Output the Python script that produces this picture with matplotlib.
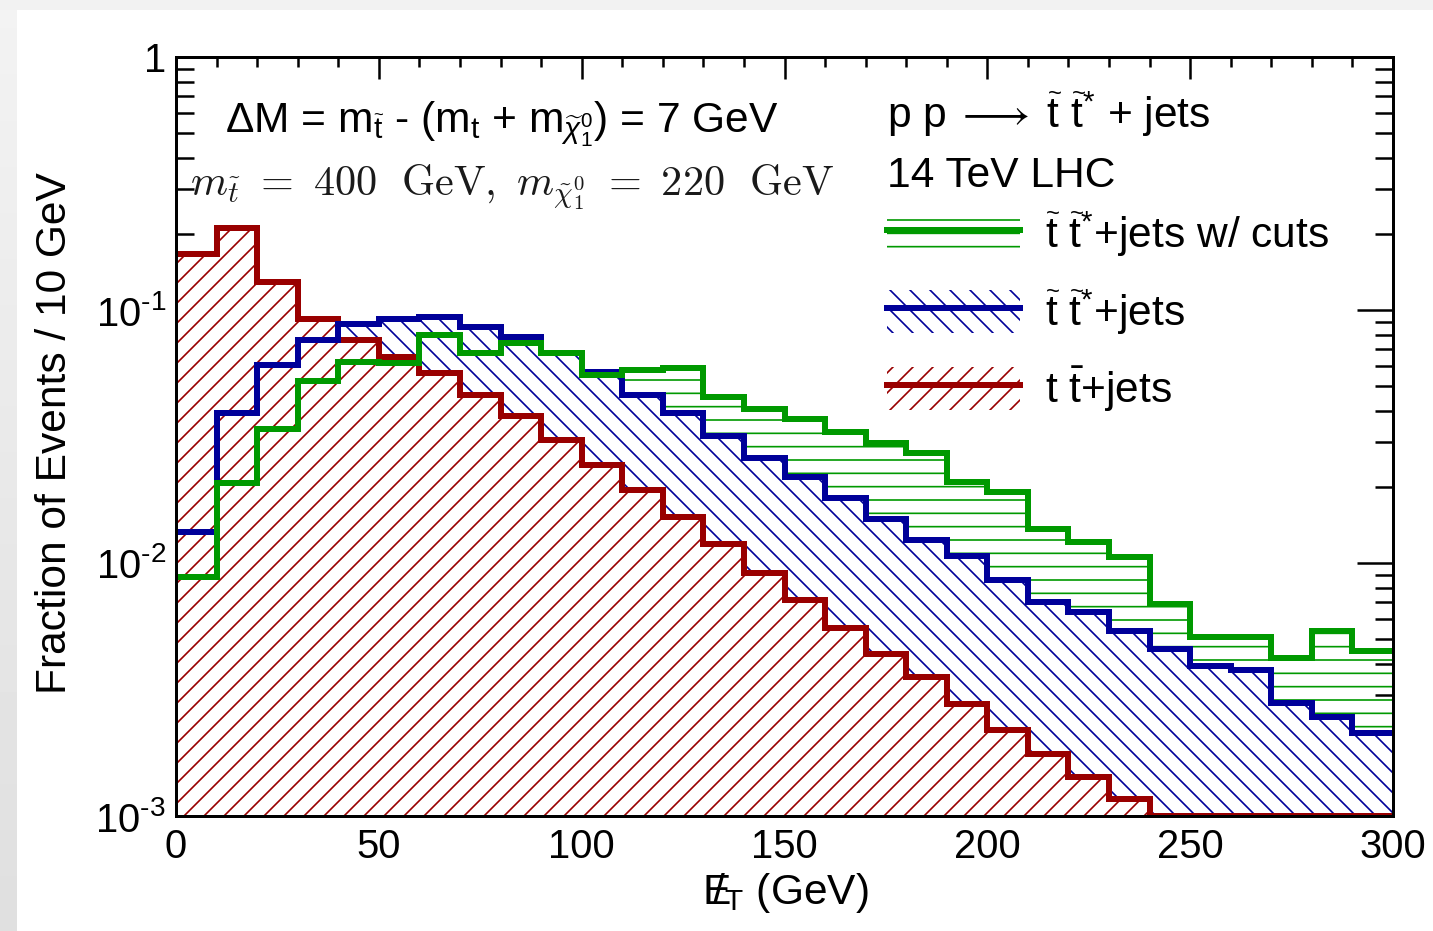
import numpy as np
import matplotlib
matplotlib.use("Agg")
import matplotlib.pyplot as plt
import matplotlib.hatch as mhatch
from matplotlib.patches import Patch, Rectangle
from matplotlib.lines import Line2D
from matplotlib.ticker import MultipleLocator, LogLocator, FuncFormatter, NullFormatter

# ---------------- data ----------------
bin_edges = np.arange(0, 310, 10)
ttbar_jets = [0.166, 0.211, 0.129, 0.092, 0.076, 0.065, 0.0563, 0.046, 0.038, 0.0306,
              0.0244, 0.0194, 0.0152, 0.0119, 0.0091, 0.00714, 0.00553, 0.00437, 0.00355, 0.00277,
              0.00219, 0.00176, 0.00143, 0.00117, 0.001, 0.001, 0.001, 0.001, 0.001, 0.001]
stop_jets = [0.0133, 0.039, 0.0607, 0.076, 0.088, 0.092, 0.094, 0.0857, 0.078, 0.0676,
             0.0569, 0.046, 0.039, 0.0318, 0.026, 0.0219, 0.0181, 0.0149, 0.0123, 0.01066,
             0.00857, 0.00701, 0.0064, 0.0054, 0.00457, 0.00392, 0.00378, 0.0028, 0.00246, 0.00213]
stop_jets_cuts = [0.0088, 0.0207, 0.0339, 0.0524, 0.0622, 0.0617, 0.0796, 0.0676, 0.074, 0.0676,
                  0.0553, 0.058, 0.059, 0.0453, 0.0406, 0.037, 0.033, 0.0298, 0.0272, 0.0209,
                  0.0191, 0.0136, 0.0121, 0.01056, 0.00689, 0.0051, 0.0051, 0.0042, 0.0054, 0.0045]
x_ticks = [0, 50, 100, 150, 200, 250, 300]
legend_labels = [r'$\widetilde{\mathrm{t}}\ \widetilde{\mathrm{t}}^{*}$+jets w/ cuts',
                 r'$\widetilde{\mathrm{t}}\ \widetilde{\mathrm{t}}^{*}$+jets',
                 r't $\bar{\mathrm{t}}$+jets']

RED, BLUE, GREEN = '#990000', '#000099', '#009900'

# denser horizontal hatch (9 lines per inch for '-')
_orig_hh_init = mhatch.HorizontalHatch.__init__
def _hh_init(self, hatch, density):
    _orig_hh_init(self, hatch, density)
    self.num_lines = int(self.num_lines * 1.5)
    self.num_vertices = self.num_lines * 2
mhatch.HorizontalHatch.__init__ = _hh_init

plt.rcParams['font.family'] = ['Liberation Sans', 'DejaVu Sans']
plt.rcParams['mathtext.fontset'] = 'custom'
plt.rcParams['mathtext.rm'] = 'Liberation Sans'
plt.rcParams['mathtext.it'] = 'Liberation Sans:italic'
plt.rcParams['mathtext.bf'] = 'Liberation Sans:bold'
plt.rcParams['mathtext.sf'] = 'Liberation Sans'
plt.rcParams['hatch.linewidth'] = 1.0

W, H, DPI = 1433, 931, 120
fig = plt.figure(figsize=(W / DPI, H / DPI), dpi=DPI)
fig.patch.set_facecolor('#f2f2f2')

def fx(px):
    return px / W

def fy(py):
    return 1 - py / H

# white page + left gradient strip
fig.add_artist(Rectangle((fx(17), 0), 1, fy(10), transform=fig.transFigure,
                         facecolor='white', edgecolor='none', zorder=0))
gax = fig.add_axes([0, 0, fx(17), fy(10)])
grad = np.linspace(0.95, 0.875, 100).reshape(-1, 1)
gax.imshow(grad, cmap='gray', vmin=0, vmax=1, aspect='auto', extent=[0, 1, 0, 1])
gax.set_axis_off()

ax = fig.add_axes([fx(176), fy(816), fx(1393) - fx(176), fy(57) - fy(816)])
ax.set_facecolor('white')

# hatched fills (white background + hatch)
series = [(stop_jets_cuts, GREEN, '-'), (stop_jets, BLUE, '\\\\'), (ttbar_jets, RED, '//')]
for z, (vals, col, hat) in enumerate(series):
    ax.stairs(vals, bin_edges, baseline=1e-6, fill=True, facecolor='white',
              edgecolor=col, hatch=hat, linewidth=0, zorder=1 + z)
# outlines
for z, (vals, col) in enumerate([(ttbar_jets, RED), (stop_jets, BLUE), (stop_jets_cuts, GREEN)]):
    ax.stairs(vals, bin_edges, baseline=None, color=col, linewidth=3.6, zorder=5 + z)

ax.set_xlim(0, 300)
ax.set_yscale('log')
ax.set_ylim(1e-3, 1)
ax.xaxis.set_major_locator(plt.FixedLocator(x_ticks))
ax.xaxis.set_minor_locator(MultipleLocator(10))
ax.yaxis.set_major_locator(LogLocator(base=10, numticks=10))
ax.yaxis.set_minor_locator(LogLocator(base=10, subs=np.arange(2, 10), numticks=20))
ax.yaxis.set_minor_formatter(NullFormatter())

def yfmt(v, p):
    e = int(round(np.log10(v)))
    if e == 0:
        return '1'
    return r'$\mathregular{10^{\text{-}%d}}$' % abs(e)
ax.yaxis.set_major_formatter(FuncFormatter(yfmt))

ax.tick_params(which='both', direction='in', top=True, right=True, width=1.5,
               labelsize=24, zorder=10)
ax.tick_params(axis='x', which='major', length=13.2, pad=7)
ax.tick_params(axis='x', which='minor', length=6)
ax.tick_params(axis='y', which='major', length=21.6, pad=6)
ax.tick_params(axis='y', which='minor', length=10.8)
for s in ax.spines.values():
    s.set_linewidth(1.8)
    s.set_zorder(10)

# axis titles
fig.text(fx(785), fy(893), r'$\mathrm{E}\!\!\!/_{\mathrm{T}}$ (GeV)', ha='center', va='center',
         fontsize=25.5)
fig.text(fx(55), fy(433), 'Fraction of Events / 10 GeV', rotation=90, ha='center',
         va='center', fontsize=25.5)

# annotations
fig.text(fx(225), fy(132),
         r'$\Delta$M = m$_{\widetilde{\mathrm{t}}}$ - (m$_{\mathrm{t}}$ + m$_{\widetilde{\chi}_{1}^{0}}$) = 7 GeV',
         ha='left', va='baseline', fontsize=25.5)
fig.text(fx(190), fy(195),
         r'$m_{\tilde{t}}\ =\ 400\ \ \mathrm{GeV},\ m_{\tilde{\chi}_1^0}\ =\ 220\ \ \mathrm{GeV}$',
         ha='left', va='baseline', fontsize=25.4, math_fontfamily='cm', color='#1a1a1a')
fig.text(fx(887), fy(128),
         r'p p$\;\longrightarrow\;$$\widetilde{\mathrm{t}}\ \widetilde{\mathrm{t}}^{*}$ + jets',
         ha='left', va='baseline', fontsize=25.5)
fig.text(fx(887), fy(187), '14 TeV LHC', ha='left', va='baseline', fontsize=25.5)

# legend
handles = []
for vals, col, hat in series:
    p = Patch(facecolor='white', edgecolor=col, hatch=hat, linewidth=0)
    l = Line2D([], [], color=col, linewidth=3.6)
    handles.append((p, l))
ax.legend(handles, legend_labels, loc='upper left', bbox_to_anchor=(fx(887), fy(210)),
          bbox_transform=fig.transFigure, frameon=False, fontsize=25.5, borderpad=0,
          borderaxespad=0, handlelength=3.13, handleheight=1.2, handletextpad=0.59,
          labelspacing=0.66)

fig.savefig('out.png', dpi=DPI, facecolor=fig.get_facecolor())
